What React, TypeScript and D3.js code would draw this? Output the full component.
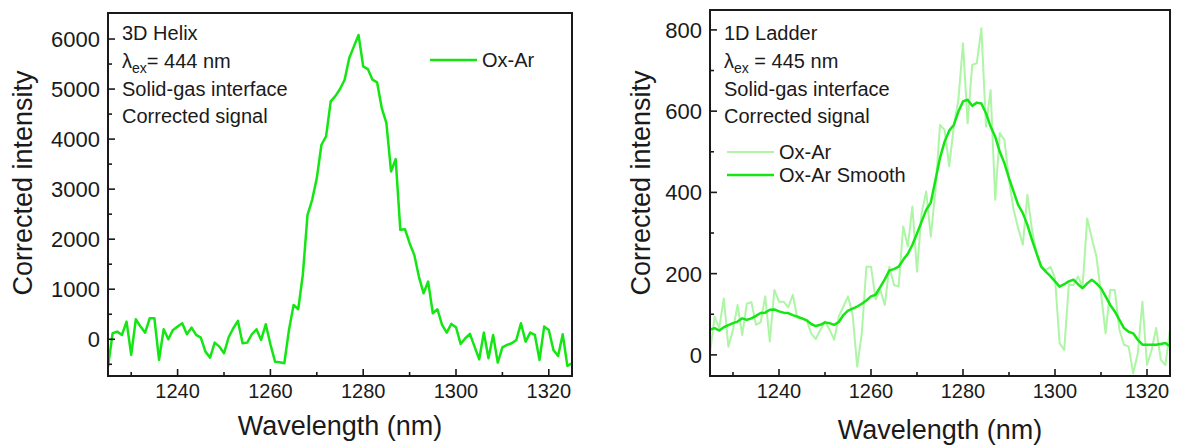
import { useEffect, useRef } from 'react';
import * as d3 from 'd3';

// sampling grid (nm), 1 nm step
const wavelengths = d3.range(1225, 1326, 1);

// 3D Helix, Ox-Ar corrected signal
const helixOxAr = [
  -547, 120, 153, 87, 353, -313, 400, 253, 133, 420,
  420, -413, 200, 0, 187, 253, 320, 100, 233, 87,
  33, -247, -367, -67, -147, -280, 40, 220, 367, -80,
  -67, 100, 200, -13, 300, -100, -447, -460, -480, 187,
  687, 600, 1300, 2487, 2787, 3220, 3887, 4053, 4753, 4860,
  5000, 5187, 5620, 5853, 6080, 5453, 5400, 5187, 5133, 4620,
  4320, 3353, 3600, 2187, 2200, 1920, 1687, 1253, 920, 1153,
  520, 600, 287, 133, 307, 240, -93, 20, 107, -147,
  -400, 133, -380, 87, -467, -160, -113, -80, -13, 320,
  -47, 133, 87, -413, 253, 187, -213, -333, 100, -533,
  -480,
];

// 1D Ladder, raw and smoothed
const ladderOxAr = [
  4, 94, 66, 139, 20, 62, 123, 49, 126, 130,
  74, 80, 144, 33, 160, 131, 131, 117, 148, 90,
  90, 86, 53, 39, 62, 82, 62, 37, 94, 119,
  144, 100, -29, 53, 217, 217, 137, 160, 123, 217,
  172, 168, 316, 267, 365, 205, 349, 402, 291, 404,
  566, 554, 464, 562, 628, 767, 570, 714, 718, 804,
  562, 652, 382, 546, 529, 431, 357, 312, 271, 394,
  308, 250, 217, 209, 217, 189, 29, 12, 172, 172,
  193, 168, 336, 287, 242, 152, 53, 160, 160, 62,
  25, 21, -45, 4, 131, -25, 12, 66, -12, -25,
  62,
];

const ladderSmooth = [
  62, 66, 60, 68, 73, 78, 82, 90, 86, 90,
  96, 103, 104, 111, 112, 107, 104, 103, 98, 94,
  90, 85, 76, 71, 74, 80, 78, 74, 81, 98,
  109, 114, 119, 126, 134, 144, 148, 167, 186, 208,
  211, 217, 234, 249, 271, 299, 328, 357, 375, 430,
  485, 525, 552, 566, 599, 624, 628, 613, 621, 619,
  595, 562, 537, 500, 472, 435, 402, 369, 349, 320,
  283, 250, 217, 205, 194, 181, 168, 174, 181, 185,
  174, 164, 176, 185, 176, 164, 144, 123, 107, 86,
  66, 57, 53, 37, 25, 25, 25, 25, 27, 29,
  21,
];

const xMajor = [1240, 1260, 1280, 1300, 1320];
const xMinor = [1230, 1250, 1270, 1290, 1310];
const helixYMajor = [0, 1000, 2000, 3000, 4000, 5000, 6000];
const helixYMinor = [-500, 500, 1500, 2500, 3500, 4500, 5500];
const ladderYMajor = [0, 200, 400, 600, 800];
const ladderYMinor = [100, 300, 500, 700];

const helixNotes = ['3D Helix', 'LAMBDA= 444 nm', 'Solid-gas interface', 'Corrected signal'];
const ladderNotes = ['1D Ladder', 'LAMBDA = 445 nm', 'Solid-gas interface', 'Corrected signal'];

const GREEN = '#14e614';
const LIGHT = '#aef5a6';
const FONT = '"Liberation Sans", Arial, sans-serif';

function drawPanel(svg, cfg) {
  const { left, right, top, bottom, yDomain, yMajor, yMinor, series, notes, legend, yTitleX, xTitleY } = cfg;
  const x = d3.scaleLinear().domain([1225, 1325]).range([left, right]);
  const y = d3.scaleLinear().domain(yDomain).range([bottom, top]);
  const id = 'clip' + left;

  svg.append('clipPath').attr('id', id)
    .append('rect').attr('x', left).attr('y', top).attr('width', right - left).attr('height', bottom - top);

  const line = d3.line().x((d, i) => x(wavelengths[i])).y(d => y(d));
  series.forEach(s => {
    svg.append('path')
      .datum(s.values)
      .attr('clip-path', `url(#${id})`)
      .attr('fill', 'none')
      .attr('stroke', s.color)
      .attr('stroke-width', s.width)
      .attr('stroke-linejoin', 'round')
      .attr('d', line);
  });

  // frame
  svg.append('rect')
    .attr('x', left).attr('y', top)
    .attr('width', right - left).attr('height', bottom - top)
    .attr('fill', 'none').attr('stroke', '#1a1a1a').attr('stroke-width', 2);

  // inward ticks
  const tk = svg.append('g').attr('stroke', '#1a1a1a').attr('stroke-width', 1.6);
  xMajor.forEach(v => tk.append('line').attr('x1', x(v)).attr('x2', x(v)).attr('y1', bottom).attr('y2', bottom - 7));
  xMinor.forEach(v => tk.append('line').attr('x1', x(v)).attr('x2', x(v)).attr('y1', bottom).attr('y2', bottom - 4));
  yMajor.forEach(v => tk.append('line').attr('x1', left).attr('x2', left + 7).attr('y1', y(v)).attr('y2', y(v)));
  yMinor.forEach(v => tk.append('line').attr('x1', left).attr('x2', left + 4).attr('y1', y(v)).attr('y2', y(v)));

  const txt = svg.append('g').attr('font-family', FONT).attr('fill', '#1a1a1a');
  xMajor.forEach(v => txt.append('text')
    .attr('x', x(v)).attr('y', bottom + 22)
    .attr('text-anchor', 'middle').attr('font-size', 20).text(v));
  yMajor.forEach(v => txt.append('text')
    .attr('x', left - 8).attr('y', y(v)).attr('dy', '0.36em')
    .attr('text-anchor', 'end').attr('font-size', 22).text(v));

  txt.append('text')
    .attr('x', (left + right) / 2).attr('y', xTitleY)
    .attr('text-anchor', 'middle').attr('font-size', 27).text('Wavelength (nm)');
  txt.append('text')
    .attr('transform', `translate(${yTitleX},183) rotate(-90)`)
    .attr('dy', '0.36em')
    .attr('text-anchor', 'middle').attr('font-size', 27).text('Corrected intensity');

  // annotations
  notes.forEach((n, i) => {
    const t = txt.append('text')
      .attr('x', left + 14).attr('y', 40 + i * 27.8).attr('font-size', 20);
    if (n.startsWith('LAMBDA')) {
      t.append('tspan').text('λ');
      t.append('tspan').attr('font-size', 14).attr('dy', 5).text('ex');
      t.append('tspan').attr('dy', -5).text(n.slice(6));
    } else {
      t.text(n);
    }
  });

  legend.forEach(l => {
    svg.append('line')
      .attr('x1', l.x).attr('x2', l.x + 47).attr('y1', l.y).attr('y2', l.y)
      .attr('stroke', l.color).attr('stroke-width', l.width);
    txt.append('text')
      .attr('x', l.x + 52).attr('y', l.y).attr('dy', '0.36em')
      .attr('font-size', 20).text(l.label);
  });
}

export default function App() {
  const svgRef = useRef(null);

  useEffect(() => {
    const svg = d3.select(svgRef.current);
    svg.selectAll('*').remove();

    drawPanel(svg, {
      left: 108, right: 572, top: 13, bottom: 376,
      yDomain: [-734, 6520], yMajor: helixYMajor, yMinor: helixYMinor,
      series: [{ values: helixOxAr, color: GREEN, width: 2.5 }],
      notes: helixNotes,
      legend: [{ x: 430, y: 60, label: 'Ox-Ar', color: GREEN, width: 2.5 }],
      yTitleX: 22, xTitleY: 435,
    });

    drawPanel(svg, {
      left: 710, right: 1170, top: 10, bottom: 376,
      yDomain: [-52, 849], yMajor: ladderYMajor, yMinor: ladderYMinor,
      series: [
        { values: ladderOxAr, color: LIGHT, width: 2 },
        { values: ladderSmooth, color: GREEN, width: 2.5 },
      ],
      notes: ladderNotes,
      legend: [
        { x: 727, y: 152, label: 'Ox-Ar', color: LIGHT, width: 2 },
        { x: 727, y: 175, label: 'Ox-Ar Smooth', color: GREEN, width: 2.5 },
      ],
      yTitleX: 640, xTitleY: 439,
    });
  }, []);

  return (
    <div style={{ position: 'fixed', left: 0, top: 0, background: '#fff' }}>
      <svg ref={svgRef} width={1177} height={446} style={{ display: 'block' }} />
    </div>
  );
}
